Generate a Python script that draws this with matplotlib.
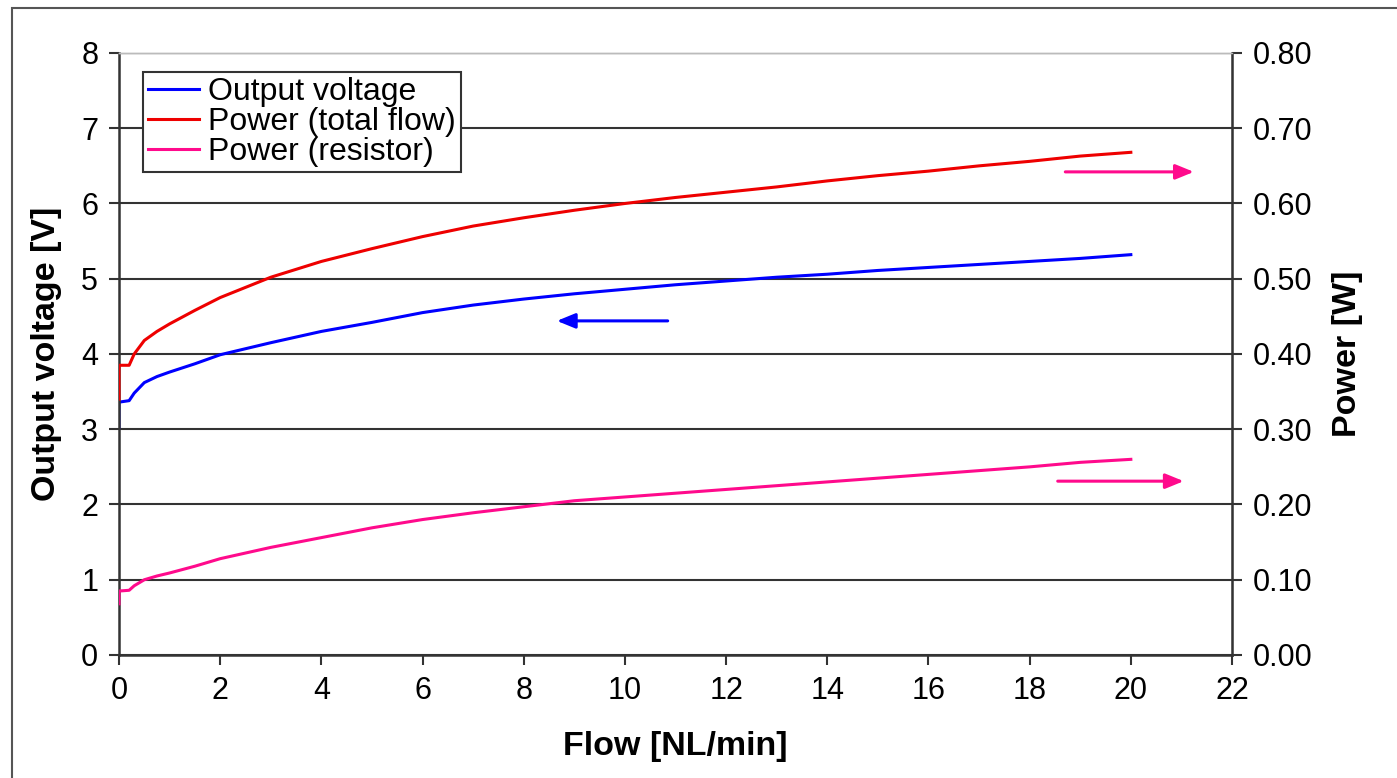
import matplotlib as mpl
mpl.use('Agg')
import matplotlib.pyplot as plt
from matplotlib.patches import Rectangle

plt.rcParams['font.family'] = ['Liberation Sans', 'DejaVu Sans']

# flow [NL/min]
flow = [0.0, 0.0, 0.2, 0.3, 0.5, 0.75, 1, 1.5, 2, 3, 4, 5, 6, 7, 8, 9, 10,
        11, 12, 13, 14, 15, 16, 17, 18, 19, 20]
# output voltage [V]
voltage = [3.02, 3.36, 3.38, 3.48, 3.62, 3.70, 3.76, 3.87, 3.99, 4.15, 4.30, 4.42,
           4.55, 4.65, 4.73, 4.80, 4.86, 4.92, 4.97, 5.02, 5.06, 5.11, 5.15,
           5.19, 5.23, 5.27, 5.32]
# power, total flow [W]
power_total = [0.34, 0.385, 0.385, 0.400, 0.418, 0.430, 0.440, 0.458, 0.475, 0.502,
               0.523, 0.540, 0.556, 0.570, 0.581, 0.591, 0.600, 0.608, 0.615,
               0.622, 0.630, 0.637, 0.643, 0.650, 0.656, 0.663, 0.668]
# power, resistor [W]
power_res = [0.068, 0.085, 0.086, 0.092, 0.100, 0.105, 0.109, 0.118, 0.128, 0.143,
             0.156, 0.169, 0.180, 0.189, 0.197, 0.205, 0.210, 0.215, 0.220,
             0.225, 0.230, 0.235, 0.240, 0.245, 0.250, 0.256, 0.260]

fig = plt.figure(figsize=(13.97, 7.78), dpi=100)
ax = fig.add_axes([0.0852, 0.1581, 0.7967, 0.7738])
ax2 = ax.twinx()

fs = 22
lfs = 24.5
l1, = ax.plot(flow, voltage, color='#0000ff', lw=2.2, label='Output voltage')
l2, = ax2.plot(flow, power_total, color='#ee0000', lw=2.2, label='Power (total flow)')
l3, = ax2.plot(flow, power_res, color='#ff0a8c', lw=2.2, label='Power (resistor)')

ax.set_xlim(0, 22)
ax.set_ylim(0, 8)
ax2.set_ylim(0, 0.8)
ax.set_xticks(range(0, 23, 2))
ax.set_yticks(range(0, 9))
ax2.set_yticks([i / 10 for i in range(0, 9)])
ax2.set_yticklabels([f'{i / 10:.2f}' for i in range(0, 9)])

for a in (ax, ax2):
    a.tick_params(labelsize=fs, length=7, width=1.5, color='#333333', pad=8)
ax.grid(axis='y', color='#333333', lw=1.5)
ax.set_axisbelow(True)
for s in ('left', 'bottom'):
    ax.spines[s].set_color('#333333')
    ax.spines[s].set_linewidth(1.8)
ax2.spines['right'].set_color('#333333')
ax2.spines['right'].set_linewidth(1.8)
for a in (ax, ax2):
    a.spines['top'].set_color('#bbbbbb')
    a.spines['top'].set_linewidth(1.0)
ax2.spines['left'].set_visible(False)
ax2.spines['bottom'].set_visible(False)

ax.set_xlabel('Flow [NL/min]', fontsize=lfs, fontweight='bold', labelpad=18)
ax.set_ylabel('Output voltage [V]', fontsize=lfs, fontweight='bold', labelpad=14)
ax2.set_ylabel('Power [W]', fontsize=lfs, fontweight='bold', labelpad=14)

# direction arrows
arrow_kw = dict(arrowstyle='-|>,head_length=1.1,head_width=0.45', lw=2.2)
ax.annotate('', xy=(8.6, 4.44), xytext=(10.9, 4.44),
            arrowprops=dict(color='#0000ff', **arrow_kw))
ax.annotate('', xy=(21.3, 6.42), xytext=(18.65, 6.42),
            arrowprops=dict(color='#ff0a8c', **arrow_kw))
ax.annotate('', xy=(21.1, 2.31), xytext=(18.5, 2.31),
            arrowprops=dict(color='#ff0a8c', **arrow_kw))

leg = ax2.legend(handles=[l1, l2, l3], loc='upper left',
                 bbox_to_anchor=(143 / 1397, 1 - 72 / 778), bbox_transform=fig.transFigure,
                 fontsize=23, frameon=True, fancybox=False, framealpha=1,
                 edgecolor='#333333', handlelength=1.6, handletextpad=0.3,
                 labelspacing=0.0, borderpad=0.15, borderaxespad=0)
leg.get_frame().set_linewidth(1.5)

# outer chart frame
fig.patches.append(Rectangle((12 / 1397, -0.1), 1.2, 1.1 - 8 / 778,
                             transform=fig.transFigure, fill=False,
                             edgecolor='#555555', lw=1.5))

fig.savefig('out.png', dpi=100)
